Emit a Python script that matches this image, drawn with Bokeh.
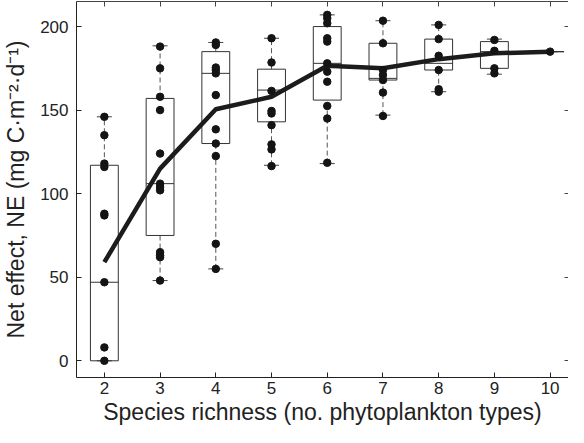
from bokeh.plotting import figure
from bokeh.models import Range1d, LinearAxis, FixedTicker, CustomJSTickFormatter, ColumnDataSource
from bokeh.embed import file_html
from bokeh.resources import INLINE

# ---- data ----
richness = [2, 3, 4, 5, 6, 7, 8, 9, 10]
q1 = [0, 75, 130, 143, 156, 168, 174, 175, 185]
median = [47, 106, 172, 162, 178, 169, 178, 185, 185]
q3 = [117, 157, 185, 174.5, 200, 190, 192.5, 191, 185]
whisker_low = [0, 48, 55, 117, 118, 147, 161, 171.5, 185]
whisker_high = [146, 188.5, 190.5, 193, 207, 203.5, 201, 192.5, 185]
mean_effect = [59, 115, 150.5, 158, 176.5, 175, 180.5, 184, 185]

points_2 = [146, 135, 118, 116, 88, 87, 47, 8, 0]
points_3 = [188, 175, 158, 150, 124, 106, 104, 102, 65, 63, 62, 48]
points_4 = [190.5, 189, 175.5, 174, 172, 159, 138.5, 130, 122.5, 70, 55]
points_5 = [193, 178.5, 161.5, 149.5, 148, 141, 129.5, 126.5, 116.5]
points_6 = [207, 205, 202, 193, 191, 178, 173, 167, 152.5, 145, 118.5]
points_7 = [203.5, 190, 174, 171, 168, 160.5, 146.5]
points_8 = [201, 192.5, 182.5, 174, 162.5, 161]
points_9 = [192, 185.5, 175, 172]
points_10 = [185]

x_ticks = [2, 3, 4, 5, 6, 7, 8, 9, 10]
y_ticks = [0, 50, 100, 150, 200]

FONT = "Liberation Sans"
DARK = "#222222"

p = figure(width=568, height=427, output_backend="svg", toolbar_location=None,
           x_range=Range1d(1.5, 10.33), y_range=Range1d(-10, 215),
           min_border_left=74, min_border_right=0, min_border_top=1, min_border_bottom=50)
p.outline_line_color = None
p.grid.visible = False
p.background_fill_color = "white"

box_w = 0.5
cap_w = 0.27

src = ColumnDataSource(dict(x=richness, q1=q1, med=median, q3=q3, lo=whisker_low,
                            hi=whisker_high,
                            left=[r - box_w / 2 for r in richness],
                            right=[r + box_w / 2 for r in richness],
                            cl=[r - cap_w / 2 for r in richness],
                            cr=[r + cap_w / 2 for r in richness]))

# whiskers (dashed)
p.segment(x0="x", y0="q3", x1="x", y1="hi", source=src, line_color="#555555",
          line_width=1, line_dash="5 3")
p.segment(x0="x", y0="lo", x1="x", y1="q1", source=src, line_color="#555555",
          line_width=1, line_dash="5 3")
# caps
p.segment(x0="cl", y0="hi", x1="cr", y1="hi", source=src, line_color="#444444", line_width=1)
p.segment(x0="cl", y0="lo", x1="cr", y1="lo", source=src, line_color="#444444", line_width=1)
# boxes
p.quad(left="left", right="right", bottom="q1", top="q3", source=src,
       fill_color=None, line_color="#333333", line_width=1)
p.segment(x0="left", y0="med", x1="right", y1="med", source=src, line_color="#333333", line_width=1)

# mean line
p.line(richness, mean_effect, line_color="#1c1c1c", line_width=4.5, line_join="round")

# points
all_pts = [points_2, points_3, points_4, points_5, points_6, points_7, points_8, points_9, points_10]
px, py = [], []
for r, pts in zip(richness, all_pts):
    px += [r] * len(pts)
    py += pts
p.scatter(px, py, size=7.5, fill_color="#141414", line_color="#141414")

# axes styling
for ax in (p.xaxis[0], p.yaxis[0]):
    ax.major_tick_in = 5
    ax.major_tick_out = 0
    ax.minor_tick_line_color = None
    ax.axis_line_color = DARK
    ax.major_tick_line_color = DARK
    ax.major_label_text_font = FONT
    ax.major_label_text_font_size = "17px"
    ax.major_label_text_color = DARK
    ax.axis_label_text_font = FONT
    ax.axis_label_text_font_size = "23px"
    ax.axis_label_text_font_style = "normal"
    ax.axis_label_text_color = DARK

p.xaxis[0].ticker = FixedTicker(ticks=x_ticks)
p.yaxis[0].ticker = FixedTicker(ticks=y_ticks)
p.xaxis[0].axis_label = "Species richness (no. phytoplankton types)"
p.yaxis[0].axis_label = "Net effect, NE (mg C\u00b7m\u207b\u00b2\u00b7d\u207b\u00b9)"
p.xaxis[0].major_label_standoff = 4
p.xaxis[0].axis_label_standoff = 2
p.yaxis[0].major_label_standoff = 8
p.yaxis[0].axis_label_standoff = 8

blank = CustomJSTickFormatter(code="return ''")
top = LinearAxis(ticker=FixedTicker(ticks=x_ticks), formatter=blank,
                 major_tick_in=5, major_tick_out=0, minor_tick_line_color=None,
                 axis_line_color="#444444", major_tick_line_color="#444444",
                 major_label_standoff=0, major_label_text_font_size="0px")
right = LinearAxis(ticker=FixedTicker(ticks=y_ticks), formatter=blank,
                   major_tick_in=4, major_tick_out=0, minor_tick_line_color=None,
                   axis_line_color=None, major_tick_line_color="#444444",
                   major_label_standoff=0, major_label_text_font_size="0px")
p.add_layout(top, "above")
p.add_layout(right, "right")

open("out.html", "w").write(file_html(p, INLINE))
